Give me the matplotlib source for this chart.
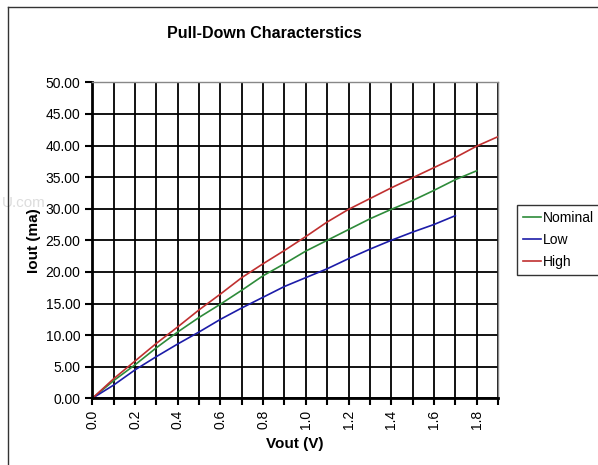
import matplotlib
matplotlib.use("Agg")
import matplotlib.pyplot as plt
from matplotlib.lines import Line2D
from matplotlib.ticker import MultipleLocator, FuncFormatter

plt.rcParams['font.family'] = ['Liberation Sans', 'DejaVu Sans']

# pull-down current vs. output voltage, one point every 0.1 V
vout_high = [0.0, 0.1, 0.2, 0.3, 0.4, 0.5, 0.6, 0.7, 0.8, 0.9, 1.0,
             1.1, 1.2, 1.3, 1.4, 1.5, 1.6, 1.7, 1.8, 1.9]
iout_high = [0.0, 3.1, 5.9, 8.7, 11.3, 14.0, 16.5, 19.1, 21.3, 23.4, 25.6,
             27.9, 29.9, 31.6, 33.3, 34.9, 36.5, 38.1, 39.9, 41.4]
vout_nom = vout_high[:19]
iout_nom = [0.0, 2.8, 5.3, 8.0, 10.5, 12.8, 14.9, 17.1, 19.4, 21.3, 23.3,
            25.0, 26.7, 28.4, 29.9, 31.3, 32.9, 34.6, 36.0]
vout_low = vout_high[:18]
iout_low = [0.0, 2.1, 4.5, 6.6, 8.6, 10.5, 12.5, 14.3, 16.0, 17.7, 19.1,
            20.5, 22.1, 23.6, 25.0, 26.3, 27.5, 28.9]

fig = plt.figure(figsize=(5.98, 4.65), dpi=100)
ax = fig.add_axes([0.1544, 0.1434, 0.6784, 0.6796])

ax.plot(vout_nom, iout_nom, color='#2e8b3a', lw=1.2, label='Nominal')
ax.plot(vout_low, iout_low, color='#1c1ca8', lw=1.2, label='Low')
ax.plot(vout_high, iout_high, color='#c03030', lw=1.2, label='High')

ax.set_xlim(0, 1.9)
ax.set_ylim(0, 50)
ax.xaxis.set_major_locator(MultipleLocator(0.1))
ax.yaxis.set_major_locator(MultipleLocator(5))
ax.yaxis.set_major_formatter(FuncFormatter(lambda v, p: f"{v:.2f}"))


def xfmt(v, p):
    k = int(round(v * 10))
    return f"{v:.1f}" if k % 2 == 0 else ""


ax.xaxis.set_major_formatter(FuncFormatter(xfmt))
ax.grid(True, color='black', lw=1.3)
ax.set_axisbelow(True)
ax.tick_params(axis='both', direction='out', length=5, width=1.5,
               labelsize=10, color='black')
ax.tick_params(axis='x', labelrotation=90, pad=3)
for s in ['left', 'bottom']:
    ax.spines[s].set_linewidth(2)
for s in ['top', 'right']:
    ax.spines[s].set_color('#888888')
    ax.spines[s].set_linewidth(1)

ax.set_xlabel('Vout (V)', fontsize=11, fontweight='bold', labelpad=6)
ax.set_ylabel('Iout (ma)', fontsize=11, fontweight='bold', labelpad=3)
fig.text(264 / 598, 1 - 33 / 465, 'Pull-Down Characterstics', fontsize=11.5,
         fontweight='bold', ha='center', va='center')

leg = ax.legend(loc='upper left', bbox_to_anchor=(517 / 598, 1 - 205 / 465),
                bbox_transform=fig.transFigure, frameon=True, fancybox=False,
                fontsize=10, handlelength=1.3, handletextpad=0.1,
                labelspacing=0.55, borderpad=0.45, borderaxespad=0)
leg.get_frame().set_edgecolor('black')
leg.get_frame().set_linewidth(1)

# outer chart-area frame
x0 = 8 / 598
y0 = 1 - 7 / 465
fig.add_artist(Line2D([x0, x0], [0, y0], transform=fig.transFigure,
                      color='#333333', lw=1))
fig.add_artist(Line2D([x0, 1], [y0, y0], transform=fig.transFigure,
                      color='#333333', lw=1))

fig.text(2 / 598, 1 - 203 / 465, 'U.com', fontsize=11, color='#dddddd',
         va='center', ha='left', zorder=0)

fig.savefig('out.png', dpi=100)
